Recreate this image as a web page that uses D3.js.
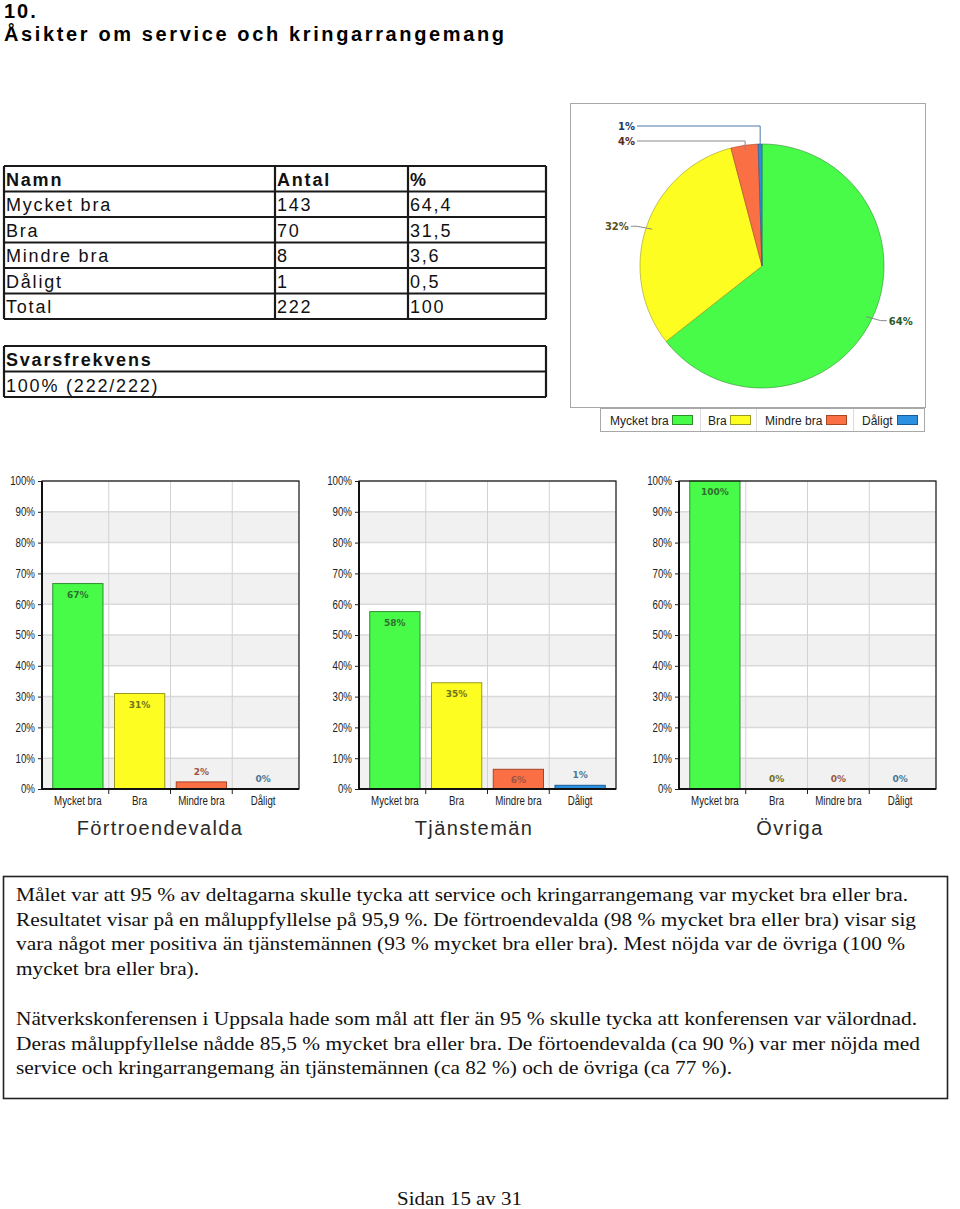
<!DOCTYPE html>
<html lang="sv">
<head>
<meta charset="UTF-8">
<title>Åsikter om service och kringarrangemang</title>
<script src="https://d3js.org/d3.v7.min.js"></script>
<style>
    body { margin: 0; background: #fff; }
    svg { display: block; }
    .cell { font-family: "Liberation Sans", Arial, sans-serif; font-size: 18px; letter-spacing: 1.8px; fill: #111; }
    .cell.head { font-weight: bold; }
    .tick { font-family: "Liberation Sans", Arial, sans-serif; font-size: 12px; fill: #222; }
    .val { font-family: "DejaVu Sans", Verdana, sans-serif; font-size: 9px; font-weight: bold; }
    .para { font-family: "Liberation Serif", "Times New Roman", serif; font-size: 19px; fill: #111; }
</style>
</head>
<body>
<div id="chart"></div>
<script>
// --- data ---
const categories = ["Mycket bra", "Bra", "Mindre bra", "Dåligt"];
const antal = [143, 70, 8, 1];
const procent = [64.4, 31.5, 3.6, 0.5];
const total = 222;
const svarsfrekvens = "100% (222/222)";

const groups = ["Förtroendevalda", "Tjänstemän", "Övriga"];
const fortroendevalda = [66.7, 31.0, 2.3, 0];
const tjansteman = [57.6, 34.5, 6.4, 1.2];
const ovriga = [100, 0, 0, 0];
const yTicks = [0, 10, 20, 30, 40, 50, 60, 70, 80, 90, 100];

const paragraph1 = [
    "Målet var att 95 % av deltagarna skulle tycka att service och kringarrangemang var mycket bra eller bra.",
    "Resultatet visar på en måluppfyllelse på 95,9 %. De förtroendevalda (98 % mycket bra eller bra) visar sig",
    "vara något mer positiva än tjänstemännen (93 % mycket bra eller bra). Mest nöjda var de övriga (100 %",
    "mycket bra eller bra)."
];
const paragraph2 = [
    "Nätverkskonferensen i Uppsala hade som mål att fler än 95 % skulle tycka att konferensen var välordnad.",
    "Deras måluppfyllelse nådde 85,5 % mycket bra eller bra. De förtoendevalda (ca 90 %) var mer nöjda med",
    "service och kringarrangemang än tjänstemännen (ca 82 %) och de övriga (ca 77 %)."
];

// --- styles ---
const fills = ["#48fb48", "#fdfd22", "#fb6f45", "#2b90e0"];
const strokes = ["#2f8f2f", "#9a9a20", "#a84525", "#1a5a9a"];
const valColors = ["#2f6f2f", "#72721e", "#9a5545", "#4a7896"];
const pieLabelColors = ["#2a5a2a", "#5a5020", "#5a2a1a", "#1a3a6a"];
const fmt = v => String(v).replace(".", ",");

// squeeze a text horizontally (narrow chart font)
function narrow(sel, k) {
    sel.each(function() {
        const w = this.getComputedTextLength();
        d3.select(this).attr("textLength", w * k).attr("lengthAdjust", "spacingAndGlyphs");
    });
}

const W = 960, H = 1209;
const svg = d3.select("#chart").append("svg").attr("width", W).attr("height", H);

// --- heading ---
svg.append("text").attr("x", 4).attr("y", 18)
    .style("font", "bold 20px 'Liberation Sans', Arial, sans-serif").style("letter-spacing", "2px")
    .text("10.");
svg.append("text").attr("x", 4).attr("y", 41)
    .attr("textLength", 500).attr("lengthAdjust", "spacing")
    .style("font", "bold 20px 'Liberation Sans', Arial, sans-serif")
    .text("Åsikter om service och kringarrangemang");

// --- table ---
const colX = [4, 275, 408, 546];
const rowH = 25.5;
const tableTop = 166;
const rows = [["Namn", "Antal", "%"]]
    .concat(categories.map((c, i) => [c, antal[i], fmt(procent[i])]))
    .concat([["Total", total, 100]]);

const table = svg.append("g");
rows.forEach((r, i) => {
    const y = tableTop + i * rowH;
    r.forEach((v, j) => {
        table.append("text").attr("class", "cell" + (i === 0 ? " head" : ""))
            .attr("x", colX[j] + 2).attr("y", y + 19.5).text(v);
    });
});
function gridBox(g, x0, x1, y0, n, h, cols) {
    for (let i = 0; i <= n; i++) {
        g.append("line").attr("x1", x0).attr("x2", x1).attr("y1", y0 + i * h).attr("y2", y0 + i * h)
            .attr("stroke", "#1a1a1a").attr("stroke-width", 2.2);
    }
    cols.forEach(x => g.append("line").attr("x1", x).attr("x2", x).attr("y1", y0).attr("y2", y0 + n * h)
        .attr("stroke", "#1a1a1a").attr("stroke-width", 2.2));
}
gridBox(table, colX[0], colX[3], tableTop, rows.length, rowH, colX);

const svar = svg.append("g");
svar.append("text").attr("class", "cell head").attr("x", 6).attr("y", 366).text("Svarsfrekvens");
svar.append("text").attr("class", "cell").attr("x", 6).attr("y", 391.5).text(svarsfrekvens);
gridBox(svar, 4, 546, 346, 2, 25.5, [4, 546]);

// --- pie ---
const pieBox = svg.append("g");
pieBox.append("rect").attr("x", 570.5).attr("y", 103.5).attr("width", 355).attr("height", 304)
    .attr("fill", "#fff").attr("stroke", "#a8a8a8");
const cx = 762, cy = 266, r = 122;
const pie = d3.pie().sort(null).value(d => d)(procent);
const arc = d3.arc().innerRadius(0).outerRadius(r);
const pg = pieBox.append("g").attr("transform", `translate(${cx},${cy})`);
pg.selectAll("path").data(pie).join("path")
    .attr("d", arc)
    .attr("fill", (d, i) => fills[i])
    .attr("stroke", (d, i) => strokes[i]).attr("stroke-width", 0.6);

let smallIdx = 0;
pie.forEach((d, i) => {
    const a = (d.startAngle + d.endAngle) / 2;
    const px = Math.sin(a), py = -Math.cos(a);
    const label = Math.round(procent[i]) + "%";
    let pts, tx, ty, anchor;
    if (procent[i] < 5) {
        const ly = cy - r - 3 - smallIdx * 15;
        smallIdx++;
        const sx = cx + px * r * 0.96, sy = cy + py * r * 0.96;
        pts = [[sx, sy], [sx, ly], [637, ly]];
        tx = 635; ty = ly + 4; anchor = "end";
    } else {
        const sx = cx + px * r * 0.95, sy = cy + py * r * 0.95;
        const ex = cx + px * (r + 10), ey = cy + py * (r + 3);
        const hx = ex + (px > 0 ? 6 : -6);
        pts = [[sx, sy], [ex, ey], [hx, ey]];
        tx = hx + (px > 0 ? 2 : -2); ty = ey + 4; anchor = px > 0 ? "start" : "end";
    }
    pieBox.append("path").attr("d", d3.line()(pts)).attr("fill", "none")
        .attr("stroke", i === 3 ? "#4a7aa8" : "#8a8a8a").attr("stroke-width", 1);
    pieBox.append("text").attr("class", "val").style("font-size", "10px")
        .attr("x", tx).attr("y", ty).attr("text-anchor", anchor)
        .attr("fill", pieLabelColors[i]).text(label);
});

// legend
const legend = svg.append("g");
legend.append("rect").attr("x", 600.5).attr("y", 408.5).attr("width", 324).attr("height", 23)
    .attr("fill", "#fff").attr("stroke", "#a8a8a8");
const legX = [610, 708, 765, 862];
const swX = [672, 730, 826, 897];
const sepX = [700, 756, 853];
sepX.forEach(x => legend.append("line").attr("x1", x + 0.5).attr("x2", x + 0.5).attr("y1", 409).attr("y2", 431)
    .attr("stroke", "#dcdcdc"));
categories.forEach((c, i) => {
    legend.append("text").attr("x", legX[i]).attr("y", 424.5)
        .style("font", "12px 'Liberation Sans', Arial, sans-serif").attr("fill", "#222").text(c);
    legend.append("rect").attr("x", swX[i] + 0.5).attr("y", 415.5).attr("width", 20).attr("height", 9)
        .attr("fill", fills[i]).attr("stroke", strokes[i]);
});

// --- bar charts ---
const panelX = [42, 359, 679];
const panelW = 257;
const plotTop = 481, plotBottom = 789;
const series = [fortroendevalda, tjansteman, ovriga];
const y = d3.scaleLinear().domain([0, 100]).range([plotBottom, plotTop]);

series.forEach((vals, p) => {
    const x0 = panelX[p];
    const g = svg.append("g");
    const x = d3.scaleBand().domain(categories).range([x0 + 5, x0 + panelW - 5])
        .paddingInner(0.17).paddingOuter(0.085);
    const step = x.step();

    // alternating bands
    yTicks.slice(0, -1).forEach((t, i) => {
        if (i % 2 === 0) {
            g.append("rect").attr("x", x0).attr("y", y(t + 10)).attr("width", panelW)
                .attr("height", y(t) - y(t + 10)).attr("fill", "#f1f1f1");
        }
    });
    // grid
    yTicks.forEach(t => g.append("line").attr("x1", x0).attr("x2", x0 + panelW)
        .attr("y1", y(t)).attr("y2", y(t)).attr("stroke", "#dadada").attr("stroke-width", 1.5));
    categories.slice(0, -1).forEach(c => {
        const bx = x(c) + x.bandwidth() + step * 0.085;
        g.append("line").attr("x1", bx).attr("x2", bx).attr("y1", plotTop).attr("y2", plotBottom)
            .attr("stroke", "#d2d2d2").attr("stroke-width", 1);
        g.append("line").attr("x1", bx).attr("x2", bx).attr("y1", plotBottom).attr("y2", plotBottom + 5)
            .attr("stroke", "#222").attr("stroke-width", 1);
    });

    // bars
    g.selectAll("rect.bar").data(vals).join("rect").attr("class", "bar")
        .attr("x", (d, i) => x(categories[i]) + 0.5)
        .attr("y", d => y(d))
        .attr("width", x.bandwidth() - 1)
        .attr("height", d => plotBottom - y(d))
        .attr("fill", (d, i) => fills[i])
        .attr("stroke", (d, i) => d > 0 ? strokes[i] : "none").attr("stroke-width", 1);

    g.selectAll("text.v").data(vals).join("text").attr("class", "val v")
        .attr("x", (d, i) => x(categories[i]) + x.bandwidth() / 2)
        .attr("y", d => (plotBottom - y(d)) > 15 ? y(d) + 14 : y(d) - 7)
        .attr("text-anchor", "middle")
        .attr("fill", (d, i) => valColors[i])
        .text(d => Math.round(d) + "%");

    // frame / axes
    g.append("rect").attr("x", x0).attr("y", plotTop).attr("width", panelW).attr("height", plotBottom - plotTop)
        .attr("fill", "none").attr("stroke", "#111").attr("stroke-width", 1.2);
    g.append("line").attr("x1", x0).attr("x2", x0).attr("y1", plotTop).attr("y2", plotBottom)
        .attr("stroke", "#111").attr("stroke-width", 2);
    g.append("line").attr("x1", x0).attr("x2", x0 + panelW).attr("y1", plotBottom).attr("y2", plotBottom)
        .attr("stroke", "#111").attr("stroke-width", 2);

    const yAxis = d3.axisLeft(y).tickValues(yTicks).tickFormat(d => d + "%").tickSize(4).tickPadding(3);
    const ya = g.append("g").attr("transform", `translate(${x0},0)`).call(yAxis);
    ya.select(".domain").remove();
    ya.selectAll("line").attr("stroke", "#222");
    ya.selectAll("text").attr("class", "tick").attr("font-family", null).attr("font-size", null)
        .call(narrow, 0.81);
    ya.attr("font-family", null).attr("font-size", null);

    categories.forEach(c => g.append("text").attr("class", "tick")
        .attr("x", x(c) + x.bandwidth() / 2).attr("y", 805).attr("text-anchor", "middle").text(c)
        .call(narrow, 0.81));

    const subtitleX = [160, 474, 790];
    g.append("text").attr("x", subtitleX[p]).attr("y", 835).attr("text-anchor", "middle")
        .style("font", "20px 'Liberation Sans', Arial, sans-serif").style("letter-spacing", "1.4px")
        .attr("fill", "#2a2a2a").text(groups[p]);
});

// --- text box ---
svg.append("rect").attr("x", 3.5).attr("y", 876.5).attr("width", 944).attr("height", 222)
    .attr("fill", "none").attr("stroke", "#222").attr("stroke-width", 1.6);
const len1 = [892, 900, 889, 183];
const len2 = [901, 904, 716];
paragraph1.forEach((t, i) => svg.append("text").attr("class", "para")
    .attr("x", 16).attr("y", 901 + i * 24.5)
    .attr("textLength", len1[i]).attr("lengthAdjust", "spacingAndGlyphs").text(t));
paragraph2.forEach((t, i) => svg.append("text").attr("class", "para")
    .attr("x", 16).attr("y", 1025 + i * 24.5)
    .attr("textLength", len2[i]).attr("lengthAdjust", "spacingAndGlyphs").text(t));

// footer
svg.append("text").attr("class", "para").attr("x", 397).attr("y", 1205)
    .attr("textLength", 125).attr("lengthAdjust", "spacingAndGlyphs").text("Sidan 15 av 31");
</script>
</body>
</html>
